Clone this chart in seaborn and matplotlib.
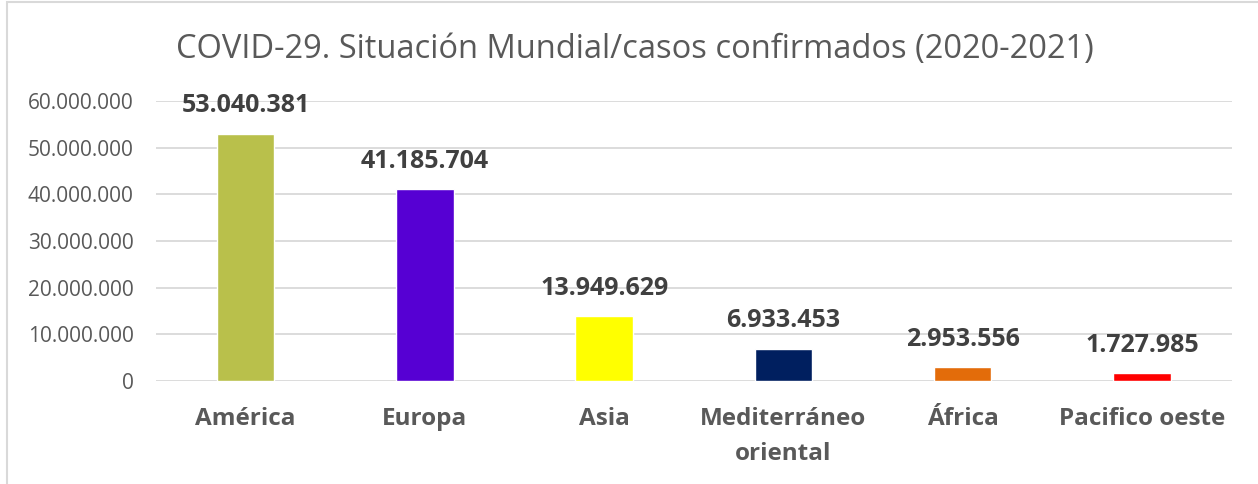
import matplotlib
matplotlib.use("Agg")
import matplotlib.pyplot as plt
import seaborn as sns
import pandas as pd
from matplotlib.patches import Rectangle
from matplotlib.ticker import FuncFormatter

# data
regiones = ["América", "Europa", "Asia", "Mediterráneo\noriental", "África", "Pacifico oeste"]
casos = [53040381, 41185704, 13949629, 6933453, 2953556, 1727985]
colores = ["#B9C04B", "#5600D3", "#FFFF00", "#001F5F", "#E36C0A", "#FF0000"]

df = pd.DataFrame({"region": regiones, "casos": casos})


def miles(v):
    return f"{int(v):,}".replace(",", ".")


sns.set_style("white")
plt.rcParams["font.family"] = ["Open Sans", "DejaVu Sans"]

fig = plt.figure(figsize=(12.58, 4.84), dpi=100)
ax = fig.add_axes([0.124, 0.213, 0.855, 0.578])

sns.barplot(data=df, x="region", y="casos", hue="region", palette=colores,
            legend=False, width=0.32, saturation=1, ax=ax)

ax.set_ylim(0, 60000000)
ax.set_yticks(range(0, 60000001, 10000000))
ax.yaxis.set_major_formatter(FuncFormatter(lambda v, p: miles(v)))
ax.grid(axis="y", color="#D9D9D9", linewidth=1.3)
ax.set_axisbelow(True)
for s in ax.spines.values():
    s.set_visible(False)
ax.tick_params(axis="y", length=0, pad=16, labelsize=15, labelcolor="#595959")
ax.tick_params(axis="x", length=0, pad=19, labelsize=17.5, labelcolor="#595959")
for t in ax.get_xticklabels():
    t.set_fontweight("bold")
    t.set_linespacing(1.6)
ax.set_xlabel("")
ax.set_ylabel("")

for i, v in enumerate(casos):
    ax.annotate(miles(v), (i, v), xytext=(0, 20), textcoords="offset points",
                ha="center", va="center", fontsize=18, fontweight="bold",
                color="#404040")

fig.text(0.505, 0.897, "COVID-29. Situación Mundial/casos confirmados (2020-2021)",
         ha="center", va="center", fontsize=23.5, color="#595959")

# chart frame
fig.patches.append(Rectangle((7 / 1258, -0.05), 1.2, 1.05 - 2 / 484,
                             transform=fig.transFigure, fill=False,
                             edgecolor="#D9D9D9", linewidth=1.5))

fig.savefig("out.png", dpi=100)
